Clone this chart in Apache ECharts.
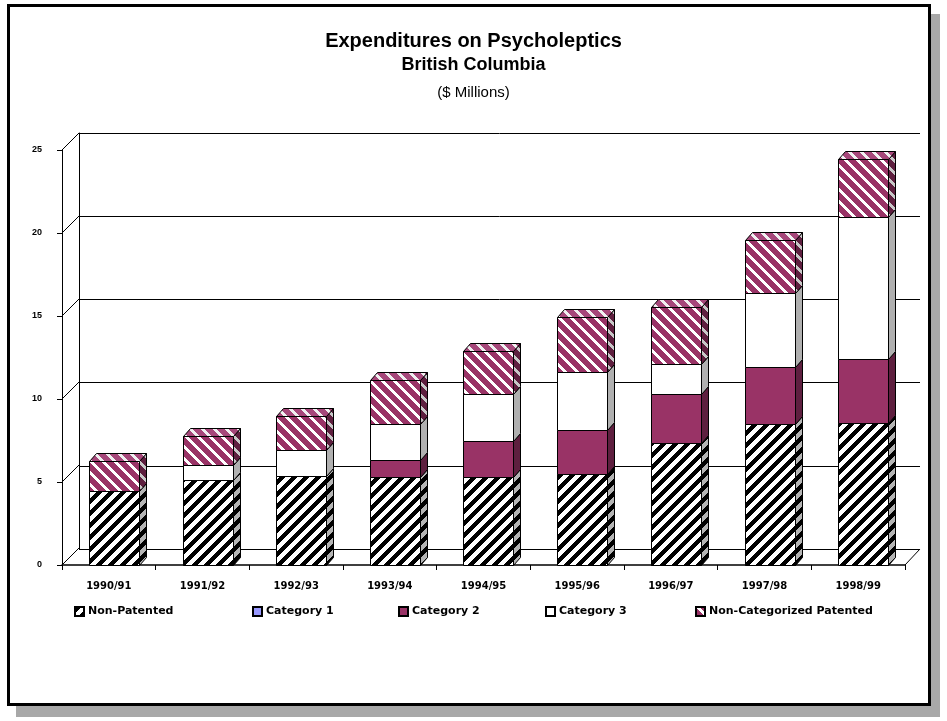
<!DOCTYPE html>
<html>
<head>
<meta charset="utf-8">
<script src="https://cdn.jsdelivr.net/npm/echarts@6/dist/echarts.min.js"></script>
<style>
html,body{margin:0;padding:0;background:#fff;}
#chart{width:947px;height:721px;}
</style>
</head>
<body>
<div id="chart"></div>
<script>
// ---- Data ----
const categories = ['1990/91','1991/92','1992/93','1993/94','1994/95','1995/96','1996/97','1997/98','1998/99'];
const nonPatented   = [4.45, 5.1, 5.35, 5.3, 5.3, 5.5, 7.35, 8.5, 8.55];
const category1     = [0, 0, 0, 0, 0, 0, 0, 0, 0];
const category2     = [0, 0, 0, 1.0, 2.2, 2.65, 2.95, 3.4, 3.85];
const category3     = [0, 0.95, 1.6, 2.2, 2.8, 3.5, 1.8, 4.5, 8.55];
const nonCategorized= [1.8, 1.7, 2.05, 2.65, 2.6, 3.3, 3.45, 3.2, 3.5];
const seriesNames = ['Non-Patented','Category 1','Category 2','Category 3','Non-Categorized Patented'];
const yTicks = [0, 5, 10, 15, 20, 25];

// ---- Patterns (pixel-exact stripes) ----
function hex(c) { return [parseInt(c.substr(1,2),16), parseInt(c.substr(3,2),16), parseInt(c.substr(5,2),16)]; }
function stripePattern(bg, fg, dir, w) {
  const s = 12;
  const c = document.createElement('canvas');
  c.width = s; c.height = s;
  const ctx = c.getContext('2d');
  const img = ctx.createImageData(s, s);
  const B = hex(bg), F = hex(fg);
  for (let y = 0; y < s; y++) {
    for (let x = 0; x < s; x++) {
      const m = dir === '/' ? (x + y) % s : ((x - y) % s + s) % s;
      const col = m < w ? F : B;
      const o = (y * s + x) * 4;
      img.data[o] = col[0]; img.data[o+1] = col[1]; img.data[o+2] = col[2]; img.data[o+3] = 255;
    }
  }
  ctx.putImageData(img, 0, 0);
  return { image: c, repeat: 'repeat' };
}
const P = {
  np:      stripePattern('#ffffff', '#000000', '/', 6),
  npSide:  stripePattern('#b4b4b4', '#000000', '/', 6),
  ncp:     stripePattern('#993366', '#ffffff', '\\', 4),
  ncpSide: stripePattern('#5e1f3f', '#c8c8c8', '\\', 4),
  ncpTop:  stripePattern('#a6477a', '#f0f0f0', '\\', 4)
};
const faceStyles = [
  { front: P.np, side: P.npSide, top: P.np },
  { front: '#9999ff', side: '#6666bb', top: '#b3b3ff' },
  { front: '#993366', side: '#5e1f3f', top: '#b05080' },
  { front: '#ffffff', side: '#b0b0b0', top: '#e8e8e8' },
  { front: P.ncp, side: P.ncpSide, top: P.ncpTop }
];
const allValues = [nonPatented, category1, category2, category3, nonCategorized];

// stacked bases / tops
const stacked = allValues.map(() => []);
const topIndex = [];
for (let i = 0; i < categories.length; i++) {
  let acc = 0, last = 0;
  for (let s = 0; s < allValues.length; s++) {
    const v = allValues[s][i];
    stacked[s].push([i, acc, acc + v]);
    acc += v;
    if (v > 0) last = s;
  }
  topIndex.push(last);
}

const FONT = "'Liberation Sans', Arial, sans-serif";
const DX = 7, DY = 8;

function makeRender(sIdx) {
  return function (params, api) {
    const i = api.value(0), b = api.value(1), t = api.value(2);
    if (!(t - b > 0)) return null;
    const c0 = api.coord([i, b]), c1 = api.coord([i, t]);
    const bw = Math.round(api.size([1, 0])[0] * 0.535);
    const x0 = Math.round(c0[0] - bw / 2 + 5) + 0.5, x1 = x0 + bw;
    const y0 = Math.round(c0[1]) + 0.5, y1 = Math.round(c1[1]) + 0.5;
    const st = faceStyles[sIdx];
    const children = [
      { type: 'rect', shape: { x: x0, y: y1, width: bw, height: y0 - y1 },
        style: { fill: st.front, stroke: '#000', lineWidth: 1 } },
      { type: 'polygon', shape: { points: [[x1, y0], [x1 + DX, y0 - DY], [x1 + DX, y1 - DY], [x1, y1]] },
        style: { fill: st.side, stroke: '#000', lineWidth: 1 } }
    ];
    if (topIndex[i] === sIdx) {
      children.push({ type: 'polygon', shape: { points: [[x0, y1], [x0 + DX, y1 - DY], [x1 + DX, y1 - DY], [x1, y1]] },
        style: { fill: st.top, stroke: '#000', lineWidth: 1 } });
    }
    return { type: 'group', children: children };
  };
}

const barSeries = seriesNames.map((name, s) => ({
  name: name,
  type: 'custom',
  coordinateSystem: 'cartesian2d',
  xAxisIndex: 0, yAxisIndex: 0,
  renderItem: makeRender(s),
  encode: { x: 0, y: [1, 2] },
  data: stacked[s],
  itemStyle: { color: faceStyles[s].front, borderColor: '#000', borderWidth: 1 },
  z: 5
}));

// side-wall diagonal lines from front y ticks to back wall
const diagSeries = {
  type: 'custom',
  coordinateSystem: 'cartesian2d',
  xAxisIndex: 0, yAxisIndex: 0,
  silent: true,
  data: yTicks.map(v => [0, v]),
  encode: { x: 0, y: 1 },
  renderItem: function (params, api) {
    const v = api.value(1);
    const p = api.coord([0, v]);
    const cs = params.coordSys;
    const x = cs.x;
    const ch = [{ type: 'line', shape: { x1: x, y1: p[1], x2: x + 17, y2: p[1] - 17 },
      style: { stroke: '#000', lineWidth: 1 } }];
    if (v === yTicks[0]) {
      ch.push({ type: 'line', shape: { x1: x + cs.width, y1: p[1], x2: x + cs.width + 15, y2: p[1] - 16 },
        style: { stroke: '#000', lineWidth: 1 } });
    }
    return { type: 'group', children: ch };
  },
  z: 2
};

const legendPos = [74, 252, 398, 545, 695];
const legends = seriesNames.map((n, k) => ({
  data: [n],
  left: legendPos[k],
  top: 606,
  padding: 0,
  itemWidth: 9, itemHeight: 9, itemGap: 4,
  icon: 'rect',
  selectedMode: false,
  textStyle: { fontFamily: "'DejaVu Sans', sans-serif", fontWeight: 'bold', fontSize: 11, color: '#000', padding: [0,0,0,-1] }
}));

const chart = echarts.init(document.getElementById('chart'), null, { renderer: 'canvas' });
chart.setOption({
  animation: false,
  backgroundColor: '#fff',
  title: [
    { text: 'Expenditures on Psycholeptics', left: 'center', top: 31, padding: 0,
      textStyle: { fontFamily: FONT, fontWeight: 'bold', fontSize: 20, color: '#000' } },
    { text: 'British Columbia', left: 'center', top: 56, padding: 0,
      textStyle: { fontFamily: FONT, fontWeight: 'bold', fontSize: 18, color: '#000' } },
    { text: '($ Millions)', left: 'center', top: 85, padding: 0,
      textStyle: { fontFamily: FONT, fontWeight: 'normal', fontSize: 15, color: '#000' } }
  ],
  legend: legends,
  grid: [
    { left: 62, right: 42, top: 150, bottom: 156 },
    { left: 79, right: 27, top: 133, bottom: 172 }
  ],
  xAxis: [
    { type: 'category', gridIndex: 0, data: categories, boundaryGap: true,
      axisLine: { show: true, lineStyle: { color: '#000', width: 1.5 } },
      axisTick: { show: true, length: 5, lineStyle: { color: '#000' } },
      axisLabel: { margin: 16, fontFamily: "'DejaVu Sans', sans-serif", fontWeight: 'bold', fontSize: 10, color: '#000' },
      splitLine: { show: false }, z: 3 },
    { type: 'category', gridIndex: 1, data: categories, boundaryGap: true,
      axisLine: { show: false }, axisTick: { show: false }, axisLabel: { show: false }, splitLine: { show: false } }
  ],
  yAxis: [
    { type: 'value', gridIndex: 0, min: 0, max: 25, interval: 5,
      axisLine: { show: true, lineStyle: { color: '#000', width: 1 } },
      axisTick: { show: true, length: 5, lineStyle: { color: '#000' } },
      axisLabel: { margin: 20, fontFamily: FONT, fontWeight: 'bold', fontSize: 9, color: '#000' },
      splitLine: { show: false }, z: 3 },
    { type: 'value', gridIndex: 1, min: 0, max: 25, interval: 5,
      axisLine: { show: true, lineStyle: { color: '#000', width: 1 } },
      axisTick: { show: false }, axisLabel: { show: false },
      splitLine: { show: true, lineStyle: { color: '#000', width: 1 } } }
  ],
  graphic: [
    { type: 'rect', shape: { x: 931, y: 14, width: 9, height: 703 }, style: { fill: '#a8a8a8' }, z: 0 },
    { type: 'rect', shape: { x: 16, y: 706, width: 924, height: 11 }, style: { fill: '#a8a8a8' }, z: 0 },
    { type: 'rect', shape: { x: 8.5, y: 5.5, width: 921, height: 699 }, style: { fill: 'none', stroke: '#000', lineWidth: 3 }, z: 1 }
  ],
  series: [diagSeries].concat(barSeries)
});
</script>
</body>
</html>
